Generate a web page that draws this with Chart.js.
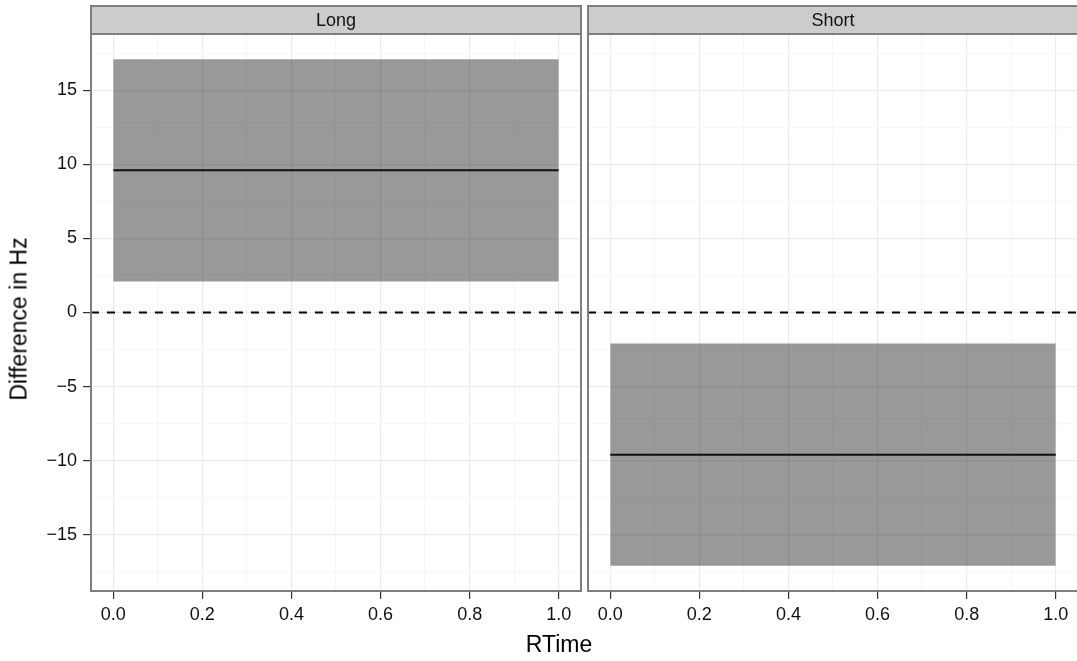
<!DOCTYPE html>
<html>
<head>
<meta charset="utf-8">
<script src="https://cdn.jsdelivr.net/npm/chart.js@4"></script>
<style>
  html, body { margin: 0; padding: 0; background: #fff; overflow: hidden; }
  #wrap { position: relative; width: 1077px; height: 661px; font-family: "Liberation Sans", Arial, sans-serif; }
  canvas { position: absolute; top: 0; }
  #c1 { left: 0; }
  #c2 { left: 585px; }
  .title { position: absolute; color: #000; font-size: 23px; white-space: nowrap; }
  #xtitle { left: 559px; top: 644px; transform: translate(-50%, -50%); }
  #ytitle { left: 19px; top: 319px; transform: translate(-50%, -50%) rotate(-90deg); }
</style>
</head>
<body>
<div id="wrap">
  <canvas id="c1" width="584" height="661"></canvas>
  <canvas id="c2" width="493" height="661"></canvas>
  <div class="title" id="xtitle">RTime</div>
  <div class="title" id="ytitle">Difference in Hz</div>
</div>
<script>
// Facets and fitted values
const panels = ['Long', 'Short'];
const rtime = [0, 1];
const fitMean = [9.6, -9.6];
const fitLower = [2.1, -17.1];
const fitUpper = [17.1, -2.1];

// Axis ticks
const xTicks = [0, 0.1, 0.2, 0.3, 0.4, 0.5, 0.6, 0.7, 0.8, 0.9, 1.0];
const yTicks = [-17.5, -15, -12.5, -10, -7.5, -5, -2.5, 0, 2.5, 5, 7.5, 10, 12.5, 15, 17.5];
const xRange = [-0.05, 1.05];
const yRange = [-18.8, 18.8];
const refLine = 0;

const FONT = '"Liberation Sans", Arial, sans-serif';

function isMajorX(v) { return Math.abs(Math.round(v * 10) % 2) === 0; }
function isMajorY(v) { return Math.abs(v % 5) < 1e-9; }

// panel border and strip label
const facetPlugin = {
    id: 'facet',
    afterDraw(chart) {
        const a = chart.chartArea;
        const ctx = chart.ctx;
        ctx.save();
        ctx.fillStyle = '#cccccc';
        ctx.fillRect(a.left, 6, a.right - a.left, 28);
        ctx.strokeStyle = '#7f7f7f';
        ctx.lineWidth = 2;
        ctx.strokeRect(a.left, 6, a.right - a.left, 28);
        ctx.strokeRect(a.left, a.top, a.right - a.left, a.bottom - a.top);
        ctx.fillStyle = '#111';
        ctx.font = '18px ' + FONT;
        ctx.textAlign = 'center';
        ctx.textBaseline = 'middle';
        ctx.fillText(chart.options.plugins.facet.label, (a.left + a.right) / 2, 21);
        ctx.restore();
    }
};

function makePanel(canvasId, i, showY) {
    const ctx = document.getElementById(canvasId).getContext('2d');
    const pts = arr => rtime.map(x => ({ x: x, y: arr[i] }));

    return new Chart(ctx, {
        type: 'line',
        data: {
            datasets: [
                { data: pts(fitUpper), borderWidth: 0, pointRadius: 0, fill: '+1', backgroundColor: 'rgba(0,0,0,0.4)' },
                { data: pts(fitLower), borderWidth: 0, pointRadius: 0, fill: false },
                { data: pts(fitMean), borderColor: '#1a1a1a', borderWidth: 2, pointRadius: 0, fill: false },
                { data: xRange.map(x => ({ x: x, y: refLine })), borderColor: '#000', borderWidth: 2,
                  borderDash: [8, 8], pointRadius: 0, fill: false }
            ]
        },
        options: {
            responsive: false,
            animation: false,
            events: [],
            layout: { padding: { top: 34, left: 0, right: showY ? 3 : 0, bottom: 0 } },
            plugins: {
                legend: { display: false },
                tooltip: { enabled: false },
                facet: { label: panels[i] }
            },
            scales: {
                x: {
                    type: 'linear',
                    min: xRange[0],
                    max: xRange[1],
                    afterBuildTicks: s => { s.ticks = xTicks.map(v => ({ value: v })); },
                    afterFit: s => { s.height = 70; },
                    border: { display: false },
                    grid: {
                        color: c => isMajorX(c.tick.value) ? '#ebebeb' : '#f7f7f7',
                        tickColor: c => isMajorX(c.tick.value) ? '#333' : 'rgba(0,0,0,0)',
                        tickLength: 8,
                        lineWidth: 1.2
                    },
                    ticks: {
                        autoSkip: false,
                        maxRotation: 0,
                        padding: 5,
                        color: '#111',
                        font: { family: FONT, size: 18 },
                        callback: v => isMajorX(v) ? v.toFixed(1) : ''
                    }
                },
                y: {
                    type: 'linear',
                    min: yRange[0],
                    max: yRange[1],
                    afterBuildTicks: s => { s.ticks = yTicks.map(v => ({ value: v })); },
                    afterFit: s => { s.width = showY ? 91 : 3; },
                    border: { display: false },
                    grid: {
                        color: c => isMajorY(c.tick.value) ? '#ebebeb' : '#f7f7f7',
                        tickColor: c => isMajorY(c.tick.value) ? '#333' : 'rgba(0,0,0,0)',
                        tickLength: 8,
                        drawTicks: showY,
                        lineWidth: 1.2
                    },
                    ticks: {
                        display: showY,
                        autoSkip: false,
                        padding: 6,
                        color: '#111',
                        font: { family: FONT, size: 18 },
                        callback: v => isMajorY(v) ? String(v).replace('-', '\u2212') : ''
                    }
                }
            }
        },
        plugins: [facetPlugin]
    });
}

makePanel('c1', 0, true);
makePanel('c2', 1, false);
</script>
</body>
</html>
